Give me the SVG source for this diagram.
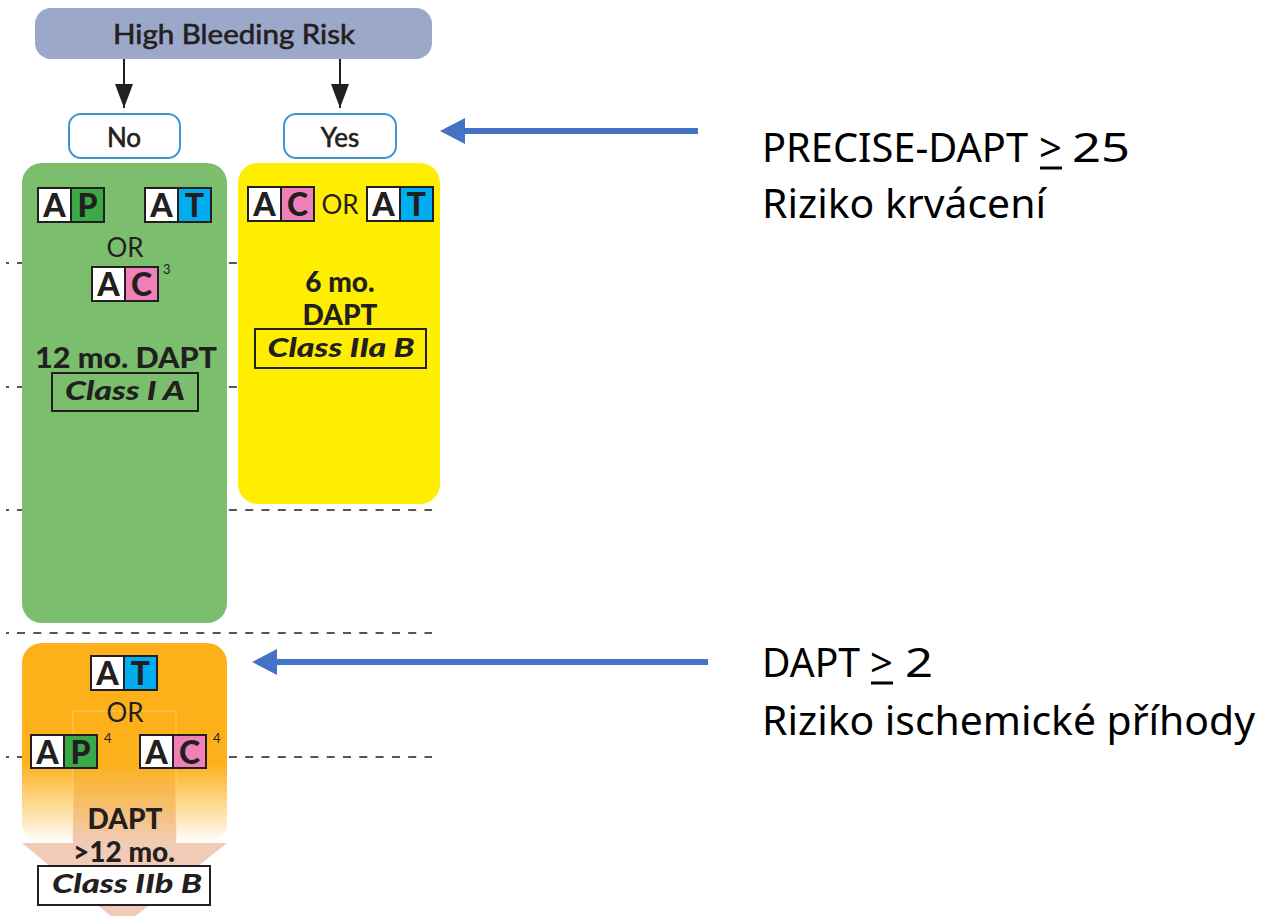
<svg xmlns="http://www.w3.org/2000/svg" width="1263" height="916" viewBox="0 0 1263 916">
<style>
.dash{stroke:#555;stroke-width:2;stroke-dasharray:8 8.3;fill:none}
.dot{stroke:#555;stroke-width:2}
.lbl{font-family:Lato,"Open Sans",sans-serif;fill:#231f20;text-anchor:middle}
.med{stroke:#231f20;stroke-width:0.6}
.bd{fill:#fff;stroke:#231f20;stroke-width:2}
.bl{font-family:Lato,"Open Sans",sans-serif;font-weight:900;font-size:32px;fill:#231f20;text-anchor:middle}
.cls{fill:none;stroke:#231f20;stroke-width:2}
.clsw{fill:#fff;stroke:#231f20;stroke-width:2}
.it{font-style:italic;font-weight:900;font-size:26px}
.bo{font-weight:900;font-size:28px}
.or{font-size:26px}
.sup{font-size:13px;text-anchor:start}
.rt{font-family:"Noto Sans","Open Sans",sans-serif;font-size:40px;fill:#000}
.blue{stroke:#4472C4;stroke-width:6;fill:none}
.yn{fill:#fff;stroke:#3F94D0;stroke-width:2}
</style>
<defs>
<linearGradient id="og" x1="0" y1="0" x2="0" y2="1">
<stop offset="0" stop-color="#FDB01A" stop-opacity="1"/>
<stop offset="0.6" stop-color="#FDB01A" stop-opacity="1"/>
<stop offset="1" stop-color="#FDB01A" stop-opacity="0"/>
</linearGradient>
<marker id="ah" markerWidth="24" markerHeight="18" refX="24" refY="9" orient="auto" markerUnits="userSpaceOnUse" viewBox="0 0 24 18">
<path d="M0,0 L24,9 L0,18 Z" fill="#231f20"/>
</marker>
</defs>

<rect width="1263" height="916" fill="#fff"/>

<g id="gridlines">
<line class="dot" x1="6" y1="263" x2="9" y2="263"/><line class="dash" x1="17" y1="263" x2="432" y2="263"/>
<line class="dot" x1="6" y1="387" x2="9" y2="387"/><line class="dash" x1="17" y1="387" x2="432" y2="387"/>
<line class="dot" x1="6" y1="510" x2="9" y2="510"/><line class="dash" x1="17" y1="510" x2="432" y2="510"/>
<line class="dot" x1="6" y1="633" x2="9" y2="633"/><line class="dash" x1="17" y1="633" x2="432" y2="633"/>
<line class="dot" x1="6" y1="757" x2="9" y2="757"/><line class="dash" x1="17" y1="757" x2="432" y2="757"/>
</g>

<g id="hbr">
<rect x="35" y="8" width="397" height="51" rx="16" fill="#9CA8C9"/>
<text class="lbl med" x="234" y="44" font-size="27" textLength="242" lengthAdjust="spacingAndGlyphs">High Bleeding Risk</text>
</g>

<g id="no">
<rect class="yn" x="69" y="114" width="111" height="44" rx="12"/>
<text class="lbl med" x="124" y="147" font-size="26">No</text>
</g>
<g id="yes">
<rect class="yn" x="284" y="114" width="112" height="44" rx="12"/>
<text class="lbl med" x="340" y="147" font-size="26">Yes</text>
</g>

<g id="green">
<rect x="22" y="163" width="205" height="460" rx="20" fill="#7BBE6E"/>
<g transform="translate(38,188)"><rect class="bd" width="66" height="34"/><rect x="33" width="33" height="34" fill="#3AAA48" stroke="#231f20" stroke-width="2"/><text class="bl" x="16.5" y="29">A</text><text class="bl" x="49.5" y="29">P</text></g>
<g transform="translate(145,188)"><rect class="bd" width="66" height="34"/><rect x="33" width="33" height="34" fill="#00AEEF" stroke="#231f20" stroke-width="2"/><text class="bl" x="16.5" y="29">A</text><text class="bl" x="49.5" y="29">T</text></g>
<text class="lbl or" x="125" y="257">OR</text>
<g transform="translate(92,267)"><rect class="bd" width="66" height="34"/><rect x="33" width="33" height="34" fill="#F080B8" stroke="#231f20" stroke-width="2"/><text class="bl" x="16.5" y="29">A</text><text class="bl" x="49.5" y="29">C</text></g>
<text class="lbl sup" x="163" y="274">3</text>
<text class="lbl bo" x="126" y="368" textLength="182" lengthAdjust="spacingAndGlyphs">12 mo. DAPT</text>
<rect class="cls" x="52" y="373" width="146" height="38"/>
<text class="lbl it" x="125" y="400" textLength="120" lengthAdjust="spacingAndGlyphs">Class I A</text>
</g>

<g id="yellow">
<rect x="238" y="163" width="202" height="341" rx="20" fill="#FFEE00"/>
<g transform="translate(248,187)"><rect class="bd" width="66" height="34"/><rect x="33" width="33" height="34" fill="#F080B8" stroke="#231f20" stroke-width="2"/><text class="bl" x="16.5" y="29">A</text><text class="bl" x="49.5" y="29">C</text></g>
<text class="lbl or" x="340" y="214">OR</text>
<g transform="translate(367,187)"><rect class="bd" width="66" height="34"/><rect x="33" width="33" height="34" fill="#00AEEF" stroke="#231f20" stroke-width="2"/><text class="bl" x="16.5" y="29">A</text><text class="bl" x="49.5" y="29">T</text></g>
<text class="lbl bo" x="340" y="292">6 mo.</text>
<text class="lbl bo" x="340" y="325">DAPT</text>
<rect class="cls" x="255" y="329" width="171" height="39"/>
<text class="lbl it" x="341" y="357" textLength="147" lengthAdjust="spacingAndGlyphs">Class IIa B</text>
</g>

<g id="orange">
<path d="M73,711 H176 V843 H227 L123,926 L22,843 H73 Z" fill="#F2CBB7"/>
<rect x="22" y="643" width="205" height="200" rx="20" fill="url(#og)"/>
<path d="M73,843 V711 H176 V843" fill="none" stroke="#FFD9A0" stroke-width="1" opacity="0.6"/>
<g transform="translate(91,656)"><rect class="bd" width="66" height="34"/><rect x="33" width="33" height="34" fill="#00AEEF" stroke="#231f20" stroke-width="2"/><text class="bl" x="16.5" y="29">A</text><text class="bl" x="49.5" y="29">T</text></g>
<text class="lbl or" x="125" y="722">OR</text>
<g transform="translate(31,735)"><rect class="bd" width="66" height="33"/><rect x="33" width="33" height="33" fill="#3AAA48" stroke="#231f20" stroke-width="2"/><text class="bl" x="16.5" y="29">A</text><text class="bl" x="49.5" y="29">P</text></g>
<text class="lbl sup" x="104" y="743">4</text>
<g transform="translate(140,735)"><rect class="bd" width="66" height="33"/><rect x="33" width="33" height="33" fill="#F080B8" stroke="#231f20" stroke-width="2"/><text class="bl" x="16.5" y="29">A</text><text class="bl" x="49.5" y="29">C</text></g>
<text class="lbl sup" x="213" y="743">4</text>
<text class="lbl bo" x="125" y="829">DAPT</text>
<text class="lbl bo" x="124" y="862">&gt;12 mo.</text>
<rect class="clsw" x="38" y="866" width="172" height="39"/>
<text class="lbl it" x="127" y="893" textLength="150" lengthAdjust="spacingAndGlyphs">Class IIb B</text>
</g>

<g id="connectors">
<line x1="124" y1="59" x2="124" y2="108" stroke="#231f20" stroke-width="2" marker-end="url(#ah)"/>
<line x1="340" y1="59" x2="340" y2="108" stroke="#231f20" stroke-width="2" marker-end="url(#ah)"/>
<line class="blue" x1="698" y1="131" x2="462" y2="131"/>
<polygon points="440,131 465,118 465,144" fill="#4472C4"/>
<line class="blue" x1="708" y1="662" x2="272" y2="662"/>
<polygon points="252,662 277,649 277,675" fill="#4472C4"/>
</g>

<g id="note1">
<text class="rt" x="762" y="162" textLength="266" lengthAdjust="spacingAndGlyphs">PRECISE-DAPT</text>
<text class="rt" x="1039" y="162">&gt;</text>
<line x1="1040" y1="168" x2="1062" y2="168" stroke="#000" stroke-width="3"/>
<text class="rt" x="1072" y="162" textLength="58" lengthAdjust="spacingAndGlyphs">25</text>
<text class="rt" x="762" y="218" textLength="284" lengthAdjust="spacingAndGlyphs">Riziko krvácení</text>
</g>

<g id="note2">
<text class="rt" x="762" y="677" textLength="98" lengthAdjust="spacingAndGlyphs">DAPT</text>
<text class="rt" x="870" y="677">&gt;</text>
<line x1="871" y1="683" x2="893" y2="683" stroke="#000" stroke-width="3"/>
<text class="rt" x="905" y="677" textLength="28" lengthAdjust="spacingAndGlyphs">2</text>
<text class="rt" x="762" y="735" textLength="493" lengthAdjust="spacingAndGlyphs">Riziko ischemické příhody</text>
</g>
</svg>
